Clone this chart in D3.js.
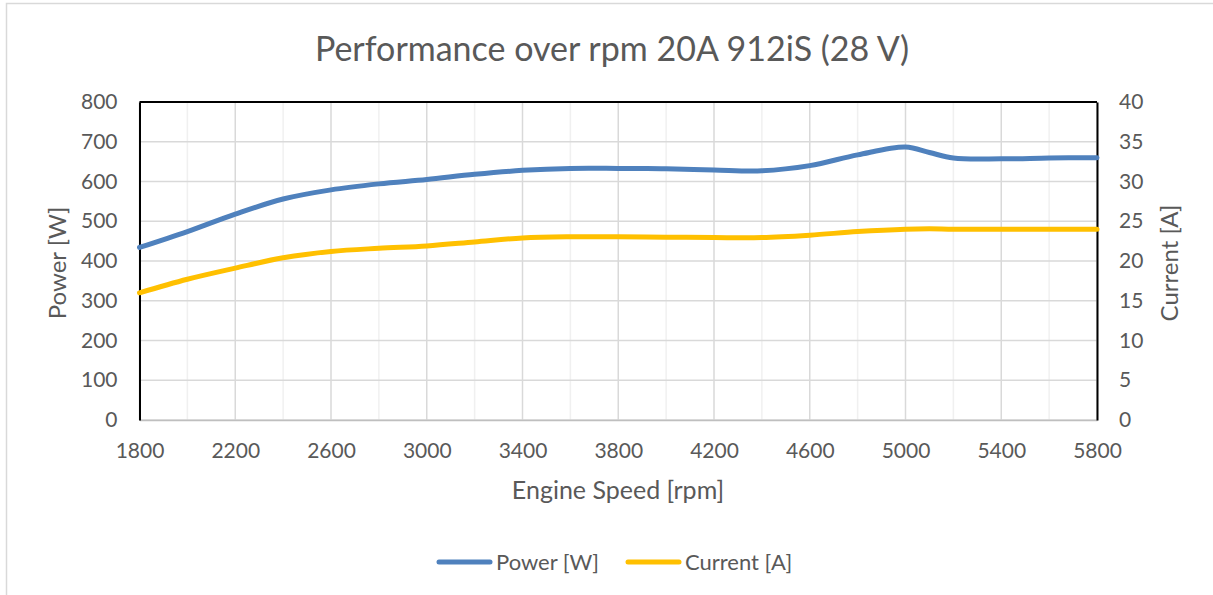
<!DOCTYPE html>
<html><head><meta charset="utf-8">
<script src="https://cdn.jsdelivr.net/npm/d3@7"></script>
<style>body{margin:0;background:#fff;} svg{display:block;} text{font-family:Lato, "Open Sans", sans-serif;}</style>
</head><body>
<svg id="c" width="1213" height="595"></svg>
<script>
const rpm = [1800,2000,2200,2400,2600,2800,3000,3200,3400,3600,3800,4000,4200,4400,4600,4800,5000,5100,5200,5400,5600,5800];
const powerW = [434,474,518,556,579,594,605,618,628,633,633,632,629,627,640,667,687,673,659,657,659,660];
const currentA = [16.0,17.7,19.1,20.4,21.2,21.6,21.9,22.4,22.9,23.05,23.05,23.0,22.95,22.95,23.25,23.7,24.0,24.05,24.0,24.0,24.0,24.0];
const xTicks = [1800,2200,2600,3000,3400,3800,4200,4600,5000,5400,5800];
const xGrid = d3.range(1800,5801,200);
const yLeftTicks = [0,100,200,300,400,500,600,700,800];
const yRightTicks = [0,5,10,15,20,25,30,35,40];
const seriesNames = ["Power [W]","Current [A]"];
const colors = ["#4f81bd","#ffc000"];

const svg = d3.select("#c");
const m={l:139.5,r:1097,t:102,b:420};
svg.append("rect").attr("x",6.5).attr("y",3.5).attr("width",1230).attr("height",620).attr("fill","#fff").attr("stroke","#d9d9d9").attr("stroke-width",1.5);

const x = d3.scaleLinear().domain([1800,5800]).range([m.l,m.r]);
const yL = d3.scaleLinear().domain([0,800]).range([m.b,m.t]);
const yR = d3.scaleLinear().domain([0,40]).range([m.b,m.t]);

const g = svg.append("g");
g.selectAll(".vg").data(xGrid).join("line")
 .attr("x1",d=>x(d)).attr("x2",d=>x(d)).attr("y1",m.t).attr("y2",m.b)
 .attr("stroke",d=>((d-1800)%400===0)?"#d9d9d9":"#f0f0f0").attr("stroke-width",1.5);
g.selectAll(".hg").data(yLeftTicks).join("line")
 .attr("x1",m.l).attr("x2",m.r).attr("y1",d=>yL(d)).attr("y2",d=>yL(d))
 .attr("stroke","#d9d9d9").attr("stroke-width",1.5);

const tc="#595959";
const axB = svg.append("g").attr("transform",`translate(0,${m.b})`)
 .call(d3.axisBottom(x).tickValues(xTicks).tickSize(0).tickPadding(23).tickFormat(d3.format("d")));
axB.select(".domain").attr("stroke","#bfbfbf").attr("stroke-width",1.5);
const axL = svg.append("g").attr("transform",`translate(${m.l},0)`)
 .call(d3.axisLeft(yL).tickValues(yLeftTicks).tickSize(0).tickPadding(22));
axL.select(".domain").attr("stroke","#000").attr("stroke-width",2);
const axR = svg.append("g").attr("transform",`translate(${m.r},0)`)
 .call(d3.axisRight(yR).tickValues(yRightTicks).tickSize(0).tickPadding(22));
axR.select(".domain").attr("stroke","#000").attr("stroke-width",2);
svg.append("line").attr("x1",m.l).attr("x2",m.r).attr("y1",m.t).attr("y2",m.t).attr("stroke","#000").attr("stroke-width",2);
svg.selectAll(".tick text").attr("fill",tc).style("font-size","21px").style("font-family","Lato, sans-serif");

const lineP = d3.line().x((d,i)=>x(rpm[i])).y(d=>yL(d)).curve(d3.curveCatmullRom.alpha(0.5));
const lineC = d3.line().x((d,i)=>x(rpm[i])).y(d=>yR(d)).curve(d3.curveCatmullRom.alpha(0.5));
svg.append("path").attr("d",lineP(powerW)).attr("fill","none").attr("stroke",colors[0]).attr("stroke-width",5).attr("stroke-linecap","round");
svg.append("path").attr("d",lineC(currentA)).attr("fill","none").attr("stroke",colors[1]).attr("stroke-width",5).attr("stroke-linecap","round");

svg.append("text").attr("x",612).attr("y",61).attr("text-anchor","middle").attr("fill",tc).style("font-size","34px").text("Performance over rpm 20A 912iS (28 V)");
svg.append("text").attr("x",618).attr("y",499).attr("text-anchor","middle").attr("fill",tc).style("font-size","25px").text("Engine Speed [rpm]");
svg.append("text").attr("transform","translate(66,263) rotate(-90)").attr("text-anchor","middle").attr("fill",tc).style("font-size","24px").text("Power [W]");
svg.append("text").attr("transform","translate(1178,263) rotate(-90)").attr("text-anchor","middle").attr("fill",tc).style("font-size","24px").text("Current [A]");

const leg = svg.append("g");
const legX=[439,628];
seriesNames.forEach((n,i)=>{
  leg.append("line").attr("x1",legX[i]).attr("x2",legX[i]+51).attr("y1",562).attr("y2",562).attr("stroke",colors[i]).attr("stroke-width",5).attr("stroke-linecap","round");
  leg.append("text").attr("x",legX[i]+57).attr("y",569.5).attr("fill",tc).style("font-size","22px").text(n);
});
</script>
</body></html>
